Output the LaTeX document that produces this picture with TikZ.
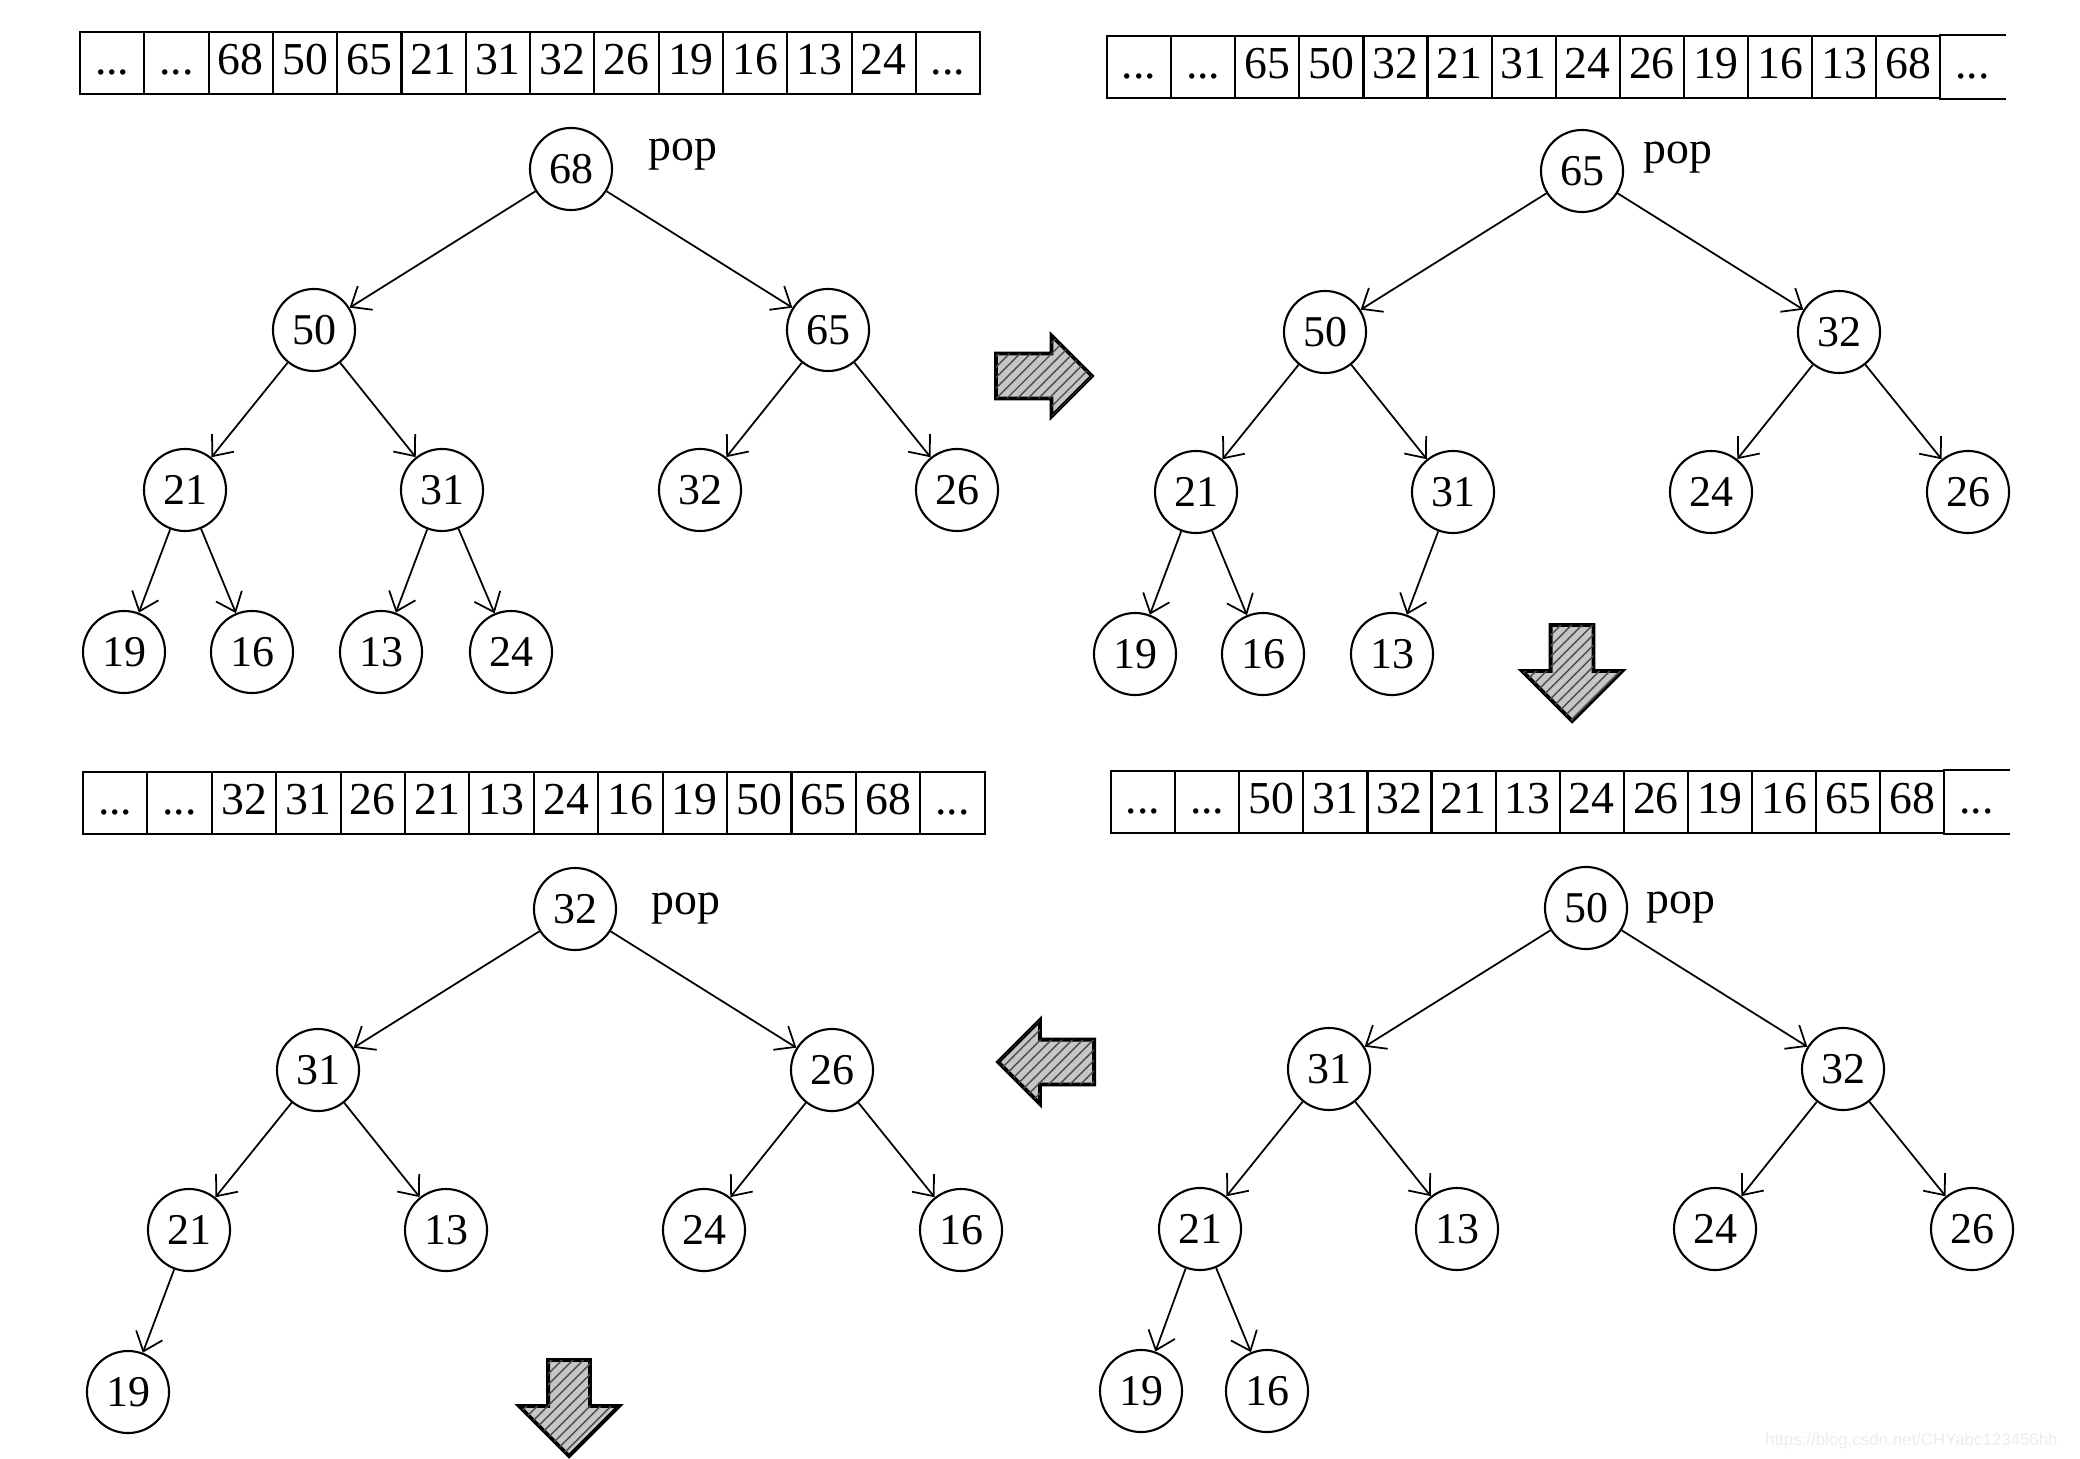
\documentclass[tikz,border=0pt]{standalone}
\usepackage{fontspec}
\setmainfont{Liberation Serif}
\newfontfamily\marksans{Liberation Sans}
\usetikzlibrary{arrows.meta}
\usetikzlibrary{shapes.arrows}
\usetikzlibrary{patterns}
\newcommand{\moredots}{...}
\tikzset{
  key/.style={draw, circle, line width=0.6pt, minimum size=0.82cm, inner sep=0pt, font=\fontsize{12.5}{14}\selectfont},
  cell/.style={draw, line width=0.6pt, minimum width=0.643cm, minimum height=0.62cm, inner sep=0pt,
    text height=0.68em, text depth=0pt, font=\fontsize{13}{15}\selectfont},
  opencell/.style={cell, draw=none},
  link/.style={draw, line width=0.5pt, -{Straight Barb[length=1.7mm,width=2.8mm]}},
  poplabel/.style={font=\fontsize{13}{15}\selectfont},
  fatarrow/.style={single arrow, draw, line width=1.1pt, fill=gray!45,
    postaction={pattern=north east lines, pattern color=black!70},
    inner sep=0.205cm, minimum height=0.96cm, single arrow head extend=0.18cm, anchor=tail},
}

\begin{document}
\begin{tikzpicture}[x=0.01cm, y=-0.01cm]
    \useasboundingbox (0,0) rectangle (2080,1458);

% STEP 1
    \foreach \v [count=\i] in {\moredots,\moredots,68,50,65,21,31,32,26,19,16,13,24,\moredots}
        \node[cell] (rowa\i) at ({80+(\i-0.5)*64.3},63) {\v};

\begin{scope}[shift={(571,169)}]
    \node[key] (a68) at (0,0) {68};
    \node[poplabel] (apop) at (112,-14) {pop};
    \node[key] (a50) at (-257,161) {50};
    \node[key] (a65) at (257,161) {65};
    \node[key] (a21) at (-386,321) {21};
    \node[key] (a31) at (-129,321) {31};
    \node[key] (a32) at (129,321) {32};
    \node[key] (a26) at (386,321) {26};
    \node[key] (a19) at (-447,483) {19};
    \node[key] (a16) at (-319,483) {16};
    \node[key] (a13) at (-190,483) {13};
    \node[key] (a24) at (-60,483) {24};
\end{scope}
    \draw (a68) edge[link] (a50) edge[link] (a65);
    \draw (a50) edge[link] (a21) edge[link] (a31);
    \draw (a65) edge[link] (a32) edge[link] (a26);
    \draw (a21) edge[link] (a19) edge[link] (a16);
    \draw (a31) edge[link] (a13) edge[link] (a24);

    \node[fatarrow] (goab) at (994,376) {};

% STEP 2
    \foreach \v [count=\i] in {\moredots,\moredots,65,50,32,21,31,24,26,19,16,13,68}
        \node[cell, minimum width=0.641cm] (rowb\i) at ({1107+(\i-0.5)*64.1},67) {\v};
    \node[opencell, minimum width=0.641cm] (rowb14) at ({1107+13.5*64.1},67) {\moredots};
    \draw[line width=0.6pt] (rowb14.north west) -- (rowb14.north east) (rowb14.south west) -- (rowb14.south east);

\begin{scope}[shift={(1582,171)}]
    \node[key] (b65) at (0,0) {65};
    \node[poplabel] (bpop) at (96,-13) {pop};
    \node[key] (b50) at (-257,161) {50};
    \node[key] (b32) at (257,161) {32};
    \node[key] (b21) at (-386,321) {21};
    \node[key] (b31) at (-129,321) {31};
    \node[key] (b24) at (129,321) {24};
    \node[key] (b26) at (386,321) {26};
    \node[key] (b19) at (-447,483) {19};
    \node[key] (b16) at (-319,483) {16};
    \node[key] (b13) at (-190,483) {13};
\end{scope}
    \draw (b65) edge[link] (b50) edge[link] (b32);
    \draw (b50) edge[link] (b21) edge[link] (b31);
    \draw (b32) edge[link] (b24) edge[link] (b26);
    \draw (b21) edge[link] (b19) edge[link] (b16);
    \draw (b31) edge[link] (b13);

    \node[fatarrow, shape border rotate=270, inner sep=0.195cm, single arrow head extend=0.285cm] (gobc) at (1572,623) {};

% STEP 3
    \foreach \v [count=\i] in {\moredots,\moredots,50,31,32,21,13,24,26,19,16,65,68}
        \node[cell, minimum width=0.641cm] (rowc\i) at ({1111+(\i-0.5)*64.1},802) {\v};
    \node[opencell, minimum width=0.641cm] (rowc14) at ({1111+13.5*64.1},802) {\moredots};
    \draw[line width=0.6pt] (rowc14.north west) -- (rowc14.north east) (rowc14.south west) -- (rowc14.south east);

\begin{scope}[shift={(1586,908)}]
    \node[key] (c50) at (0,0) {50};
    \node[poplabel] (cpop) at (95,0) {pop};
    \node[key] (c31) at (-257,161) {31};
    \node[key] (c32) at (257,161) {32};
    \node[key] (c21) at (-386,321) {21};
    \node[key] (c13) at (-129,321) {13};
    \node[key] (c24) at (129,321) {24};
    \node[key] (c26) at (386,321) {26};
    \node[key] (c19) at (-445,483) {19};
    \node[key] (c16) at (-319,483) {16};
\end{scope}
    \draw (c50) edge[link] (c31) edge[link] (c32);
    \draw (c31) edge[link] (c21) edge[link] (c13);
    \draw (c32) edge[link] (c24) edge[link] (c26);
    \draw (c21) edge[link] (c19) edge[link] (c16);

    \node[fatarrow, shape border rotate=180, single arrow head extend=0.195cm] (gocd) at (1096,1062) {};

% STEP 4
    \foreach \v [count=\i] in {\moredots,\moredots,32,31,26,21,13,24,16,19,50,65,68,\moredots}
        \node[cell] (rowd\i) at ({83+(\i-0.5)*64.4},803) {\v};

\begin{scope}[shift={(575,909)}]
    \node[key] (d32) at (0,0) {32};
    \node[poplabel] (dpop) at (111,0) {pop};
    \node[key] (d31) at (-257,161) {31};
    \node[key] (d26) at (257,161) {26};
    \node[key] (d21) at (-386,321) {21};
    \node[key] (d13) at (-129,321) {13};
    \node[key] (d24) at (129,321) {24};
    \node[key] (d16) at (386,321) {16};
    \node[key] (d19) at (-447,483) {19};
\end{scope}
    \draw (d32) edge[link] (d31) edge[link] (d26);
    \draw (d31) edge[link] (d21) edge[link] (d13);
    \draw (d26) edge[link] (d24) edge[link] (d16);
    \draw (d21) edge[link] (d19);

    \node[fatarrow, shape border rotate=270, inner sep=0.19cm, single arrow head extend=0.29cm] (godn) at (569,1358) {};

    \node[anchor=east, text=gray!15, font=\marksans\fontsize{4.8}{6}\selectfont] (mark) at (2070,1441) {https://blog.csdn.net/CHYabc123456hh};
\end{tikzpicture}
\end{document}
